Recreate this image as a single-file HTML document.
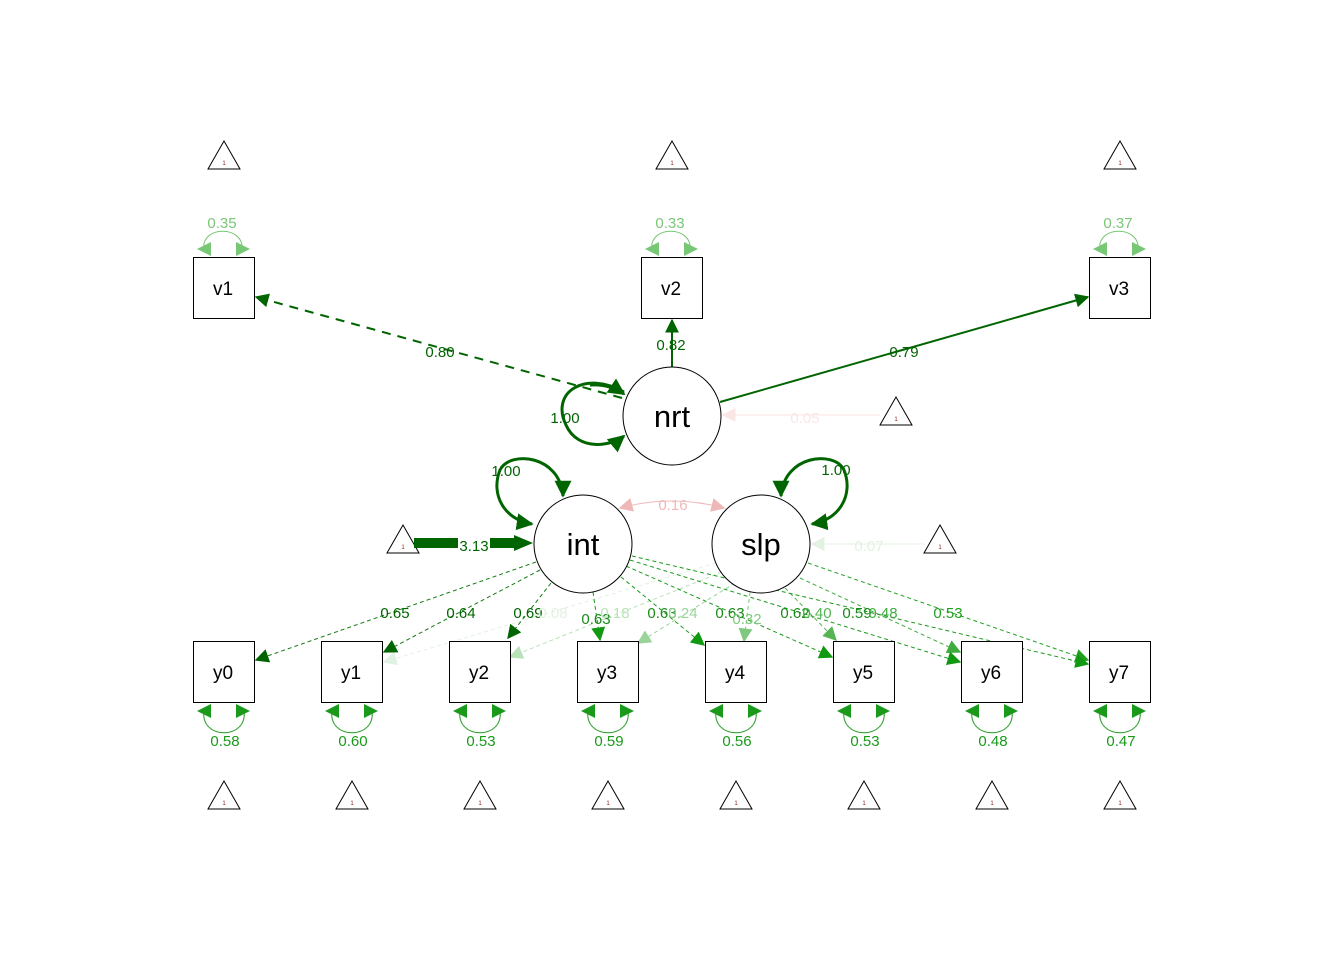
<!DOCTYPE html>
<html><head><meta charset="utf-8"><style>html,body{margin:0;padding:0;background:#fff}svg{display:block}text{font-family:"Liberation Sans",sans-serif}</style></head>
<body>
<svg width="1344" height="960" viewBox="0 0 1344 960" xmlns="http://www.w3.org/2000/svg">
<defs>
<marker id="ad" viewBox="0 0 10 10" refX="9" refY="5" markerWidth="14" markerHeight="14" markerUnits="userSpaceOnUse" orient="auto"><path d="M0,0L10,5L0,10z" fill="#006400"/></marker>
<marker id="am" viewBox="0 0 10 10" refX="9" refY="5" markerWidth="14" markerHeight="14" markerUnits="userSpaceOnUse" orient="auto"><path d="M0,0L10,5L0,10z" fill="#119911"/></marker>
<marker id="a1" viewBox="0 0 10 10" refX="9" refY="5" markerWidth="14" markerHeight="14" markerUnits="userSpaceOnUse" orient="auto"><path d="M0,0L10,5L0,10z" fill="#e2f2e2"/></marker>
<marker id="a2" viewBox="0 0 10 10" refX="9" refY="5" markerWidth="14" markerHeight="14" markerUnits="userSpaceOnUse" orient="auto"><path d="M0,0L10,5L0,10z" fill="#b8e2b8"/></marker>
<marker id="a3" viewBox="0 0 10 10" refX="9" refY="5" markerWidth="14" markerHeight="14" markerUnits="userSpaceOnUse" orient="auto"><path d="M0,0L10,5L0,10z" fill="#9ad49a"/></marker>
<marker id="a4" viewBox="0 0 10 10" refX="9" refY="5" markerWidth="14" markerHeight="14" markerUnits="userSpaceOnUse" orient="auto"><path d="M0,0L10,5L0,10z" fill="#80c880"/></marker>
<marker id="a5" viewBox="0 0 10 10" refX="9" refY="5" markerWidth="14" markerHeight="14" markerUnits="userSpaceOnUse" orient="auto"><path d="M0,0L10,5L0,10z" fill="#55b555"/></marker>
<marker id="a6" viewBox="0 0 10 10" refX="9" refY="5" markerWidth="14" markerHeight="14" markerUnits="userSpaceOnUse" orient="auto"><path d="M0,0L10,5L0,10z" fill="#40ac40"/></marker>
<marker id="a7" viewBox="0 0 10 10" refX="9" refY="5" markerWidth="14" markerHeight="14" markerUnits="userSpaceOnUse" orient="auto"><path d="M0,0L10,5L0,10z" fill="#22a022"/></marker>
<marker id="ap" viewBox="0 0 10 10" refX="9" refY="5" markerWidth="14" markerHeight="14" markerUnits="userSpaceOnUse" orient="auto"><path d="M0,0L10,5L0,10z" fill="#efb8b8"/></marker>
<marker id="apf" viewBox="0 0 10 10" refX="9" refY="5" markerWidth="14" markerHeight="14" markerUnits="userSpaceOnUse" orient="auto"><path d="M0,0L10,5L0,10z" fill="#fbe6e6"/></marker>
<marker id="aT" viewBox="0 0 10 10" refX="9" refY="5" markerWidth="17" markerHeight="17" markerUnits="userSpaceOnUse" orient="auto"><path d="M0,0L10,5L0,10z" fill="#006400"/></marker>
</defs>

<g fill="#fff" stroke="#000" stroke-width="1">
<path d="M224,141L208,169L240,169z"/><path d="M672,141L656,169L688,169z"/><path d="M1120,141L1104,169L1136,169z"/>
<path d="M896,397L880,425L912,425z"/><path d="M403,525L387,553L419,553z"/><path d="M940,525L924,553L956,553z"/>
<path d="M224,781L208,809L240,809z"/><path d="M352,781L336,809L368,809z"/><path d="M480,781L464,809L496,809z"/><path d="M608,781L592,809L624,809z"/>
<path d="M736,781L720,809L752,809z"/><path d="M864,781L848,809L880,809z"/><path d="M992,781L976,809L1008,809z"/><path d="M1120,781L1104,809L1136,809z"/>
</g>
<g font-size="6" fill="#8b2323" text-anchor="middle">
<text x="224" y="165">1</text><text x="672" y="165">1</text><text x="1120" y="165">1</text><text x="896" y="421">1</text><text x="403" y="549">1</text><text x="940" y="549">1</text>
<text x="224" y="805">1</text><text x="352" y="805">1</text><text x="480" y="805">1</text><text x="608" y="805">1</text><text x="736" y="805">1</text><text x="864" y="805">1</text><text x="992" y="805">1</text><text x="1120" y="805">1</text>
</g>

<g fill="none" stroke-dasharray="4,3" stroke-width="1">
<line x1="716" y1="563" x2="384" y2="662" stroke="#e2f2e2" marker-end="url(#a1)"/>
<line x1="722" y1="572" x2="510" y2="657" stroke="#b8e2b8" marker-end="url(#a2)"/>
<line x1="735" y1="583" x2="638" y2="643" stroke="#9ad49a" marker-end="url(#a3)"/>
<line x1="750" y1="592" x2="744" y2="641" stroke="#80c880" marker-end="url(#a4)"/>
<line x1="785" y1="588" x2="836" y2="640" stroke="#55b555" marker-end="url(#a5)"/>
<line x1="800" y1="578" x2="960" y2="652" stroke="#40ac40" marker-end="url(#a6)"/>
<line x1="808" y1="563" x2="1088" y2="660" stroke="#22a022" marker-end="url(#a7)"/>
</g>
<g fill="none" stroke-dasharray="4,3" stroke-width="1" stroke="#117a11">
<line x1="536" y1="562" x2="256" y2="660" marker-end="url(#ad)"/>
<line x1="540" y1="570" x2="384" y2="652" marker-end="url(#ad)"/>
<line x1="551" y1="583" x2="508" y2="638" marker-end="url(#ad)"/>
<line x1="593" y1="592" x2="600" y2="640" stroke="#1a9a1a" marker-end="url(#am)"/>
<line x1="621" y1="577" x2="704" y2="645" stroke="#1a9a1a" marker-end="url(#am)"/>
<line x1="626" y1="566" x2="832" y2="657" stroke="#1a9a1a" marker-end="url(#am)"/>
<line x1="630" y1="560" x2="960" y2="662" stroke="#1a9a1a" marker-end="url(#am)"/>
<line x1="632" y1="556" x2="1088" y2="664" stroke="#1a9a1a" marker-end="url(#am)"/>
</g>

<line x1="622" y1="398" x2="256" y2="297" stroke="#006400" stroke-width="2" stroke-dasharray="9,7" marker-end="url(#ad)"/>
<line x1="672" y1="367" x2="672" y2="320" stroke="#006400" stroke-width="2" marker-end="url(#ad)"/>
<line x1="720" y1="402" x2="1088" y2="297" stroke="#006400" stroke-width="2" marker-end="url(#ad)"/>
<path d="M624,392 C585,370 550,392 566,425 C578,452 612,446 624,436" fill="none" stroke="#006400" stroke-width="3" marker-end="url(#aT)"/>
<path d="M590,385 C605,384 615,388 624,394" fill="none" stroke="#006400" stroke-width="3" marker-end="url(#aT)"/>
<line x1="880" y1="415" x2="723" y2="415" stroke="#fbe6e6" stroke-width="1" marker-end="url(#apf)"/>

<path d="M563,496 C560,455 510,450 500,470 C490,495 505,520 532,524" fill="none" stroke="#006400" stroke-width="3" marker-end="url(#aT)"/>
<line x1="563" y1="486" x2="563" y2="496" stroke="#006400" stroke-width="3" marker-end="url(#aT)"/>
<path d="M781,496 C784,455 834,450 844,470 C854,495 839,520 812,524" fill="none" stroke="#006400" stroke-width="3" marker-end="url(#aT)"/>
<line x1="781" y1="486" x2="781" y2="496" stroke="#006400" stroke-width="3" marker-end="url(#aT)"/>

<rect x="414" y="538" width="44" height="10" fill="#006400"/>
<rect x="490" y="538" width="26" height="10" fill="#006400"/>
<polygon points="514,535 533,543 514,551" fill="#006400"/>
<line x1="925" y1="544" x2="812" y2="544" stroke="#e2f2e2" stroke-width="1" marker-end="url(#a1)"/>

<path d="M724,508 Q672,494 620,508" fill="none" stroke="#efb8b8" stroke-width="1" marker-end="url(#ap)"/>
<line x1="716" y1="506" x2="724" y2="508" stroke="#efb8b8" marker-end="url(#ap)"/>

<g fill="none" stroke="#77c777" stroke-width="1">
<path d="M204,250 C200,225 245,225 242,250"/><path d="M652,250 C648,225 693,225 690,250"/><path d="M1100,250 C1096,225 1141,225 1138,250"/>
</g>
<g fill="#77c777">
<path d="M197,249l14,-7v14z"/><path d="M250,249l-14,-7v14z"/>
<path d="M645,249l14,-7v14z"/><path d="M698,249l-14,-7v14z"/>
<path d="M1093,249l14,-7v14z"/><path d="M1146,249l-14,-7v14z"/>
</g>
<g fill="none" stroke="#1a9a1a" stroke-width="1">
<path d="M204,711 C200,740 248,740 244,711"/><path d="M332,711 C328,740 376,740 372,711"/><path d="M460,711 C456,740 504,740 500,711"/><path d="M588,711 C584,740 632,740 628,711"/>
<path d="M716,711 C712,740 760,740 756,711"/><path d="M844,711 C840,740 888,740 884,711"/><path d="M972,711 C968,740 1016,740 1012,711"/><path d="M1100,711 C1096,740 1144,740 1140,711"/>
</g>
<g fill="#1a9a1a">
<path d="M197,711l14,-7v14z"/><path d="M250,711l-14,-7v14z"/>
<path d="M325,711l14,-7v14z"/><path d="M378,711l-14,-7v14z"/>
<path d="M453,711l14,-7v14z"/><path d="M506,711l-14,-7v14z"/>
<path d="M581,711l14,-7v14z"/><path d="M634,711l-14,-7v14z"/>
<path d="M709,711l14,-7v14z"/><path d="M762,711l-14,-7v14z"/>
<path d="M837,711l14,-7v14z"/><path d="M890,711l-14,-7v14z"/>
<path d="M965,711l14,-7v14z"/><path d="M1018,711l-14,-7v14z"/>
<path d="M1093,711l14,-7v14z"/><path d="M1146,711l-14,-7v14z"/>
</g>

<g fill="#fff" stroke="#000" stroke-width="1">
<rect x="193.5" y="257.5" width="61" height="61"/><rect x="641.5" y="257.5" width="61" height="61"/><rect x="1089.5" y="257.5" width="61" height="61"/>
<rect x="193.5" y="641.5" width="61" height="61"/><rect x="321.5" y="641.5" width="61" height="61"/><rect x="449.5" y="641.5" width="61" height="61"/><rect x="577.5" y="641.5" width="61" height="61"/>
<rect x="705.5" y="641.5" width="61" height="61"/><rect x="833.5" y="641.5" width="61" height="61"/><rect x="961.5" y="641.5" width="61" height="61"/><rect x="1089.5" y="641.5" width="61" height="61"/>
<circle cx="672" cy="416" r="49"/><circle cx="583" cy="544" r="49"/><circle cx="761" cy="544" r="49"/>
</g>
<g font-size="19" fill="#000" text-anchor="middle">
<text x="223" y="295">v1</text><text x="671" y="295">v2</text><text x="1119" y="295">v3</text>
<text x="223" y="679">y0</text><text x="351" y="679">y1</text><text x="479" y="679">y2</text><text x="607" y="679">y3</text>
<text x="735" y="679">y4</text><text x="863" y="679">y5</text><text x="991" y="679">y6</text><text x="1119" y="679">y7</text>
</g>
<g font-size="31" fill="#000" text-anchor="middle">
<text x="672" y="427">nrt</text><text x="583" y="555">int</text><text x="761" y="555">slp</text>
</g>

<g font-size="15" text-anchor="middle">
<g fill="#77c777"><text x="222" y="228">0.35</text><text x="670" y="228">0.33</text><text x="1118" y="228">0.37</text></g>
<g fill="#1a9a1a"><text x="225" y="746">0.58</text><text x="353" y="746">0.60</text><text x="481" y="746">0.53</text><text x="609" y="746">0.59</text>
<text x="737" y="746">0.56</text><text x="865" y="746">0.53</text><text x="993" y="746">0.48</text><text x="1121" y="746">0.47</text></g>
<g fill="#006400"><text x="440" y="357">0.80</text><text x="671" y="350">0.82</text><text x="904" y="357">0.79</text><text x="565" y="423">1.00</text>
<text x="506" y="476">1.00</text><text x="836" y="475">1.00</text><text x="474" y="551">3.13</text>
<text x="395" y="618">0.65</text><text x="461" y="618">0.64</text><text x="528" y="618">0.69</text></g>
<g fill="#1a8a1a"><text x="596" y="624">0.63</text><text x="662" y="618">0.63</text><text x="730" y="618">0.63</text><text x="795" y="618">0.62</text><text x="857" y="618">0.59</text></g>
<text x="553" y="618" fill="#e2f2e2">0.08</text><text x="615" y="618" fill="#b8e2b8">0.18</text><text x="683" y="618" fill="#9ad49a">0.24</text>
<text x="747" y="624" fill="#80c880">0.32</text><text x="817" y="618" fill="#55b555">0.40</text><text x="883" y="618" fill="#40ac40">0.48</text><text x="948" y="618" fill="#22a022">0.53</text>
<text x="673" y="510" fill="#efb8b8">0.16</text><text x="805" y="423" fill="#fbe6e6">0.05</text><text x="869" y="551" fill="#e2f2e2">0.07</text>
</g>
</svg>
</body></html>
